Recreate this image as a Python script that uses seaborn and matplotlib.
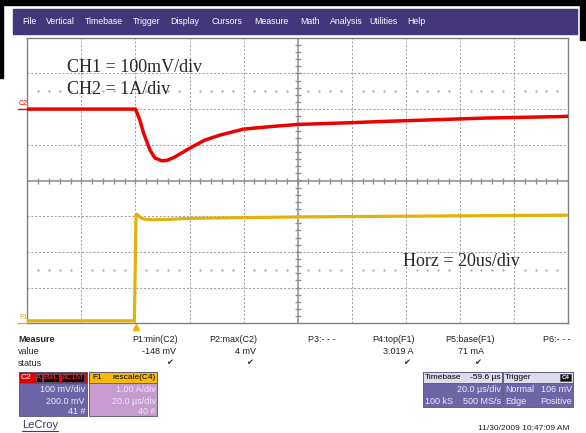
import matplotlib
matplotlib.use("Agg")
import matplotlib.pyplot as plt
from matplotlib.patches import Rectangle
from matplotlib.lines import Line2D
import numpy as np
import seaborn as sns

# traces, in screen divisions (x: 0..10, y: -4..4)
c2_x = [0, 2.0, 2.08, 2.15, 2.27, 2.36, 2.49, 2.6, 2.73, 3.0, 3.28, 3.56, 4.0, 4.5, 5.0, 6.0, 6.5, 7.5, 8.5, 9.85, 10]
c2_y = [2.0, 2.0, 1.7, 1.33, 0.85, 0.63, 0.55, 0.57, 0.66, 0.9, 1.13, 1.27, 1.44, 1.51, 1.57, 1.62, 1.65, 1.7, 1.75, 1.79, 1.8]
f1_x = [0, 1.98, 2.0, 2.01, 2.03, 2.08, 2.15, 2.3, 2.6, 3.0, 4.0, 5.0, 7.0, 9.0, 10]
f1_y = [-3.93, -3.93, -2.1, -0.96, -0.95, -1.02, -1.08, -1.1, -1.09, -1.06, -1.04, -1.02, -1.0, -0.98, -0.97]

menu_items = ["File", "Vertical", "Timebase", "Trigger", "Display", "Cursors",
              "Measure", "Math", "Analysis", "Utilities", "Help"]
menu_pos = [22, 46, 85, 133, 170, 212, 254, 300, 330, 369, 407]

param_names = ["P1:min(C2)", "P2:max(C2)", "P3:- - -", "P4:top(F1)", "P5:base(F1)", "P6:- - -"]
param_values = ["-148 mV", "4 mV", "", "3.019 A", "71 mA", ""]
param_ok = [True, True, False, True, True, False]

W, H = 586, 433
def fx(x):
    return x / W
def fy(y):
    return 1 - y / H

sns.set_style("white")
plt.rcParams['font.family'] = ['Liberation Sans', 'DejaVu Sans']

fig = plt.figure(figsize=(5.86, 4.33), dpi=100)
fig.patch.set_facecolor("white")

# black frame bits and menu bar
fig.patches.append(Rectangle((0, fy(5)), 1, 5 / H, transform=fig.transFigure, color="black"))
fig.patches.append(Rectangle((0, fy(78)), fx(3), 78 / H, transform=fig.transFigure, color="black"))
fig.patches.append(Rectangle((fx(580), fy(40)), fx(6), 40 / H, transform=fig.transFigure, color="black"))
fig.patches.append(Rectangle((fx(13), fy(34)), fx(564), 25 / H, transform=fig.transFigure, color="#43367a"))
for name, px in zip(menu_items, menu_pos):
    fig.text(fx(px), fy(21.5), name, color="white", fontsize=6.3, va="center", ha="left")

# main grid
left, right, top, bottom = 27.3, 568, 37.7, 323.3
ax = fig.add_axes([fx(left), fy(bottom), (right - left) / W, (bottom - top) / H])
ax.set_xlim(0, 10)
ax.set_ylim(-4, 4)
ax.set_xticks([])
ax.set_yticks([])
for s in ax.spines.values():
    s.set_color("#808080")
    s.set_linewidth(1)

for gx in range(1, 10):
    if gx != 5:
        ax.axvline(gx, color="#9a9a9a", lw=0.7, ls=(0, (2, 2)), zorder=1)
for gy in range(-3, 4):
    if gy != 0:
        ax.axhline(gy, color="#9a9a9a", lw=0.7, ls=(0, (2, 2)), zorder=1)
ax.axvline(5, color="#8c8c8c", lw=1.1, zorder=1)
ax.axhline(0, color="#8c8c8c", lw=1.1, zorder=1)

ticks_x = np.arange(0.2, 10, 0.2)
ticks_y = np.arange(-3.8, 4, 0.2)
ax.plot(ticks_x, np.zeros_like(ticks_x), ls="none", marker="|", ms=4.5, color="#8c8c8c", mew=0.9, zorder=1)
ax.plot(np.full_like(ticks_y, 5), ticks_y, ls="none", marker="_", ms=4.5, color="#8c8c8c", mew=0.9, zorder=1)
dots_x = [v for v in ticks_x if abs(v - round(v)) > 0.05]
for dy in (2.5, -2.5):
    ax.plot(dots_x, [dy] * len(dots_x), ls="none", marker="s", ms=0.7, color="#b4b4b4", zorder=1)

sns.lineplot(x=f1_x, y=f1_y, ax=ax, color="#e3b20a", lw=2.3, estimator=None, sort=False, zorder=3)
sns.lineplot(x=c2_x, y=c2_y, ax=ax, color="#ee0000", lw=2.5, estimator=None, sort=False, zorder=4)

# channel markers on the left
fig.text(fx(19), fy(103.5), "C2", color="#ee0000", fontsize=5, va="center")
fig.lines.append(Line2D([fx(18), fx(27)], [fy(108.5), fy(108.5)], transform=fig.transFigure, color="#ee0000", lw=1))
fig.text(fx(19), fy(317.5), "F1", color="#e3b20a", fontsize=5, va="center")
fig.lines.append(Line2D([fx(18), fx(27)], [fy(322.5), fy(322.5)], transform=fig.transFigure, color="#e3b20a", lw=1))
fig.lines.append(Line2D([fx(136)], [fy(327)], transform=fig.transFigure, marker="^", ms=5, color="#f0b400", ls="none"))

# annotations
serif = ['Liberation Serif', 'DejaVu Serif']
fig.text(fx(67), fy(67), "CH1 = 100mV/div", fontsize=13, family=serif, va="center")
fig.text(fx(67), fy(89), "CH2 = 1A/div", fontsize=13, family=serif, va="center")
fig.text(fx(403), fy(262), "Horz = 20us/div", fontsize=13, family=serif, va="center")

# measure table
fs = 6.5
fig.text(fx(18), fy(340), "Measure", fontsize=fs, weight="bold", va="center")
fig.text(fx(18), fy(352), "value", fontsize=fs, va="center")
fig.text(fx(18), fy(364), "status", fontsize=fs, va="center")
name_x = [132, 209, 308, 372, 445, 543]
value_r = [176, 256, 336, 413, 484, 570]
for nm, val, ok, nx, vr in zip(param_names, param_values, param_ok, name_x, value_r):
    fig.text(fx(nx), fy(340), nm, fontsize=fs, va="center", color="#202020")
    if val:
        fig.text(fx(vr), fy(352), val, fontsize=fs, va="center", ha="right", color="#202020")
    if ok:
        fig.text(fx(vr - 3), fy(364), "\u2714", fontsize=6, va="center", ha="right", color="#303030")


def box(x0, y0, w, h, color):
    fig.patches.append(Rectangle((fx(x0), fy(y0 + h)), w / W, h / H, transform=fig.transFigure,
                                 facecolor=color, edgecolor="#555577", lw=0.6))


body_txt = "#ececf8"
# C2 box
box(19, 372, 68, 44, "#6d65a5")
box(19, 372, 68, 11, "#e00000")
fig.text(fx(21), fy(377.5), "C2", color="white", fontsize=6, va="center")
for lbl, bx, bw in [("A", 36, 6), ("BwL", 43, 16), ("AC1M", 61, 23)]:
    box(bx, 373.5, bw, 8, "#1a0000")
    fig.text(fx(bx + bw / 2), fy(377.5), lbl, color="#ff3030", fontsize=5.5, va="center", ha="center")
for i, t in enumerate(["100 mV/div", "200.0 mV", "41 #"]):
    fig.text(fx(85), fy(390 + 11 * i), t, color=body_txt, fontsize=fs, va="center", ha="right")

# F1 box
box(89, 372, 68, 44, "#c59bd0")
box(89, 372, 68, 11, "#f5b90a")
fig.text(fx(92), fy(377.5), "F1", color="black", fontsize=6, va="center")
fig.text(fx(156), fy(377.5), "rescale(C4)", color="black", fontsize=6, va="center", ha="right")
for i, t in enumerate(["1.00 A/div", "20.0 \u00b5s/div", "40 #"]):
    fig.text(fx(156), fy(390 + 11 * i), t, color=body_txt, fontsize=fs, va="center", ha="right")

# Timebase box
box(423, 372, 79, 35, "#6d65a5")
box(423, 372, 79, 11, "#dcdcea")
fig.text(fx(425), fy(377.5), "Timebase", color="black", fontsize=6, va="center")
fig.text(fx(501), fy(377.5), "-59.6 \u00b5s", color="black", fontsize=6, va="center", ha="right")
fig.text(fx(501), fy(390), "20.0 \u00b5s/div", color=body_txt, fontsize=fs, va="center", ha="right")
fig.text(fx(425), fy(401), "100 kS", color=body_txt, fontsize=fs, va="center")
fig.text(fx(501), fy(401), "500 MS/s", color=body_txt, fontsize=fs, va="center", ha="right")

# Trigger box
box(503, 372, 70, 35, "#6d65a5")
box(503, 372, 70, 11, "#dcdcea")
fig.text(fx(505), fy(377.5), "Trigger", color="black", fontsize=6, va="center")
box(560, 374, 11, 7, "#101010")
fig.text(fx(565.5), fy(377.5), "C4", color="white", fontsize=4.5, va="center", ha="center", weight="bold")
fig.text(fx(505), fy(390), "Normal", color=body_txt, fontsize=fs, va="center")
fig.text(fx(572), fy(390), "106 mV", color=body_txt, fontsize=fs, va="center", ha="right")
fig.text(fx(505), fy(401), "Edge", color=body_txt, fontsize=fs, va="center")
fig.text(fx(572), fy(401), "Positive", color=body_txt, fontsize=fs, va="center", ha="right")

# footer
fig.text(fx(22), fy(425), "LeCroy", color="#3a3a6e", fontsize=8, va="center")
fig.lines.append(Line2D([fx(22), fx(58)], [fy(431), fy(431)], transform=fig.transFigure, color="#3a3a6e", lw=0.8))
fig.text(fx(570), fy(428), "11/30/2009 10:47:09 AM", fontsize=6, va="center", ha="right", color="#202020")

fig.savefig("out.png", dpi=100)
